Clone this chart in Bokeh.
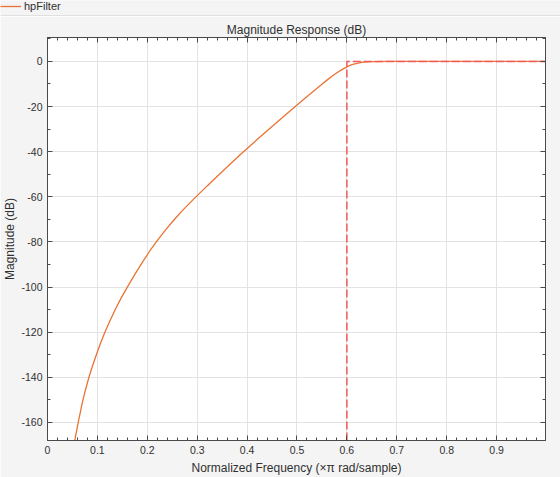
from bokeh.plotting import figure
from bokeh.models import Range1d, FixedTicker, LinearAxis, Legend, LegendItem, ColumnDataSource
from bokeh.layouts import column
from bokeh.embed import file_html
from bokeh.resources import INLINE

# ---- data ----
freq = [0.05, 0.055, 0.062, 0.07, 0.076, 0.083, 0.09, 0.1, 0.107, 0.115,
        0.125, 0.137, 0.148, 0.16, 0.175, 0.19, 0.205, 0.218, 0.235, 0.255,
        0.275, 0.298, 0.32, 0.345, 0.37, 0.391, 0.42, 0.45, 0.475, 0.5,
        0.525, 0.55, 0.56, 0.57, 0.58, 0.59, 0.6, 0.61, 0.62, 0.63, 0.64,
        0.65, 0.66, 0.68, 0.7, 0.8, 0.9, 0.998]
mag_db = [-173.5, -167.5, -159.5, -151.0, -145.6, -140, -135.1, -128.7, -124.5, -120,
          -115.0, -109.4, -104.7, -100, -94.4, -89.07, -84.01, -80, -75.07, -69.83,
          -65.03, -59.92, -55.17, -49.87, -44.67, -40.39, -34.62, -28.8, -24.05, -19.35,
          -14.67, -10.07, -8.29, -6.61, -5.04, -3.62, -2.4, -1.45, -0.83, -0.45, -0.23,
          -0.11, -0.05, -0.01, 0, 0, 0, 0]
mask_freq = [0.6, 0.6, 0.998]
mask_db = [-168, 0, 0]

x_ticks = [0, 0.1, 0.2, 0.3, 0.4, 0.5, 0.6, 0.7, 0.8, 0.9]
x_tick_labels = ["0", "0.1", "0.2", "0.3", "0.4", "0.5", "0.6", "0.7", "0.8", "0.9"]
x_minor = [round(i * 0.02, 2) for i in range(0, 50)]
y_ticks = [-160, -140, -120, -100, -80, -60, -40, -20, 0]
y_tick_labels = ["-160", "-140", "-120", "-100", "-80", "-60", "-40", "-20", "0"]
y_minor = [-160 + 10 * i for i in range(0, 18)]

title_text = "Magnitude Response (dB)"
x_label = "Normalized Frequency (\u00d7\u03c0 rad/sample)"
y_label = "Magnitude (dB)"
series_name = "hpFilter"

FONT = "Liberation Sans"
BG = "#f4f4f4"
CURVE = "#ea7334"
MASK = "#f05a5a"
AXC = "#4a4a4a"
TXT = "#303030"

src = ColumnDataSource(dict(f=freq, m=mag_db))
msrc = ColumnDataSource(dict(f=mask_freq, m=mask_db))

# ---- legend strip ----
pt = figure(width=560, height=16, output_backend="svg", toolbar_location=None,
            x_axis_type=None, y_axis_type=None,
            x_range=Range1d(0, 1), y_range=Range1d(1000, 1001),
            min_border_left=0, min_border_right=0, min_border_top=0, min_border_bottom=1)
pt.frame_align = False
pt.background_fill_color = BG
pt.border_fill_color = "#9a9a9a"
pt.outline_line_color = None
pt.grid.visible = False
# same series, drawn out of view: only its legend sample shows in the strip
dummy = pt.line("f", "m", source=src, line_color=CURVE, line_width=1.3)
leg = Legend(items=[LegendItem(label=series_name, renderers=[dummy])],
             location="top_left", orientation="horizontal",
             border_line_color=None, background_fill_alpha=0,
             margin=0, padding=4, spacing=0,
             glyph_width=21, glyph_height=6, label_height=6,
             label_standoff=3, label_text_font=FONT, label_text_font_size="11px",
             label_text_color=TXT)
pt.add_layout(leg)

# ---- main chart ----
p = figure(width=560, height=461, output_backend="svg", toolbar_location=None,
           x_range=Range1d(0, 0.998), y_range=Range1d(-168, 10.6),
           title=title_text, x_axis_label=x_label, y_axis_label=y_label,
           min_border_left=46, min_border_right=15, min_border_top=21, min_border_bottom=36)
p.frame_align = False
p.border_fill_color = BG
p.background_fill_color = "white"
p.outline_line_color = AXC

p.title.align = "center"
p.title.text_font = FONT
p.title.text_font_size = "12px"
p.title.text_font_style = "normal"
p.title.text_color = TXT
p.title.standoff = 2

xt = FixedTicker(ticks=x_ticks, minor_ticks=x_minor)
yt = FixedTicker(ticks=y_ticks, minor_ticks=y_minor)

for ax, tk, labs, ticks in ((p.xaxis[0], xt, x_tick_labels, x_ticks),
                            (p.yaxis[0], yt, y_tick_labels, y_ticks)):
    ax.ticker = tk
    ax.major_label_overrides = {t: l for t, l in zip(ticks, labs)}
    ax.axis_line_color = AXC
    ax.major_tick_line_color = AXC
    ax.minor_tick_line_color = AXC
    ax.major_tick_in = 5
    ax.major_tick_out = 0
    ax.minor_tick_in = 3
    ax.minor_tick_out = 0
    ax.major_label_text_font = FONT
    ax.major_label_text_font_size = "10.5px"
    ax.major_label_text_color = TXT
    ax.axis_label_text_font = FONT
    ax.axis_label_text_font_size = "12px"
    ax.axis_label_text_font_style = "normal"
    ax.axis_label_text_color = TXT
    ax.major_label_standoff = 5

p.xaxis[0].axis_label_standoff = 4
p.yaxis[0].axis_label_standoff = 1

# box axes (top and right): ticks only, no labels drawn
for side, tk, ticks in (("above", xt, x_ticks), ("right", yt, y_ticks)):
    a = LinearAxis(ticker=tk, major_label_text_font_size="1px", major_label_standoff=0,
                   major_label_text_color=None,
                   major_label_overrides={t: "" for t in ticks},
                   axis_line_color=AXC, major_tick_line_color=AXC, minor_tick_line_color=AXC,
                   major_tick_in=5, major_tick_out=0, minor_tick_in=3, minor_tick_out=0)
    p.add_layout(a, side)

p.xgrid.ticker = xt
p.ygrid.ticker = yt
p.grid.grid_line_color = "#e3e3e3"
p.grid.grid_line_width = 1

p.line("f", "m", source=src, line_color=CURVE, line_width=1.3)
p.line("f", "m", source=msrc, line_color=MASK, line_width=1.5, line_dash="8 3")

layout = column(pt, p, spacing=0)
layout.styles = {"position": "absolute", "left": "0px", "top": "0px"}

open("out.html", "w").write(file_html(layout, INLINE))
